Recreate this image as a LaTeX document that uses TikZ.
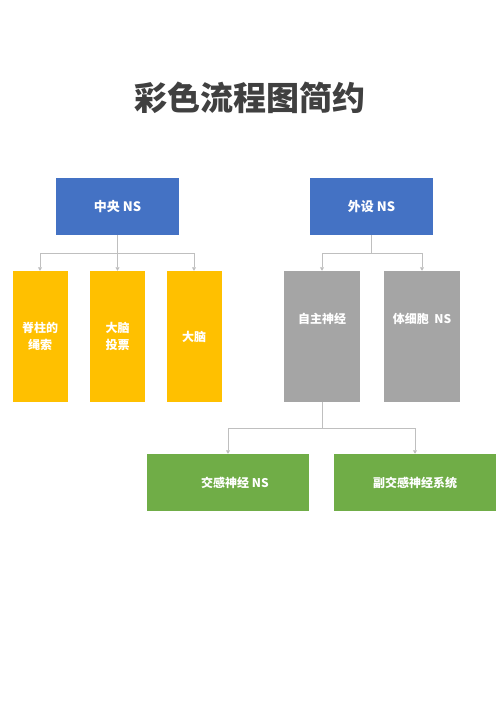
\documentclass[tikz,border=0pt]{standalone}
\usepackage{fontspec}
\setmainfont{Noto Sans CJK SC}
\usepackage{tikz}
\usetikzlibrary{arrows.meta, positioning}
\definecolor{headblue}{HTML}{4472C4}
\definecolor{cordyellow}{HTML}{FFC000}
\definecolor{nervegray}{HTML}{A5A5A5}
\definecolor{leafgreen}{HTML}{70AD47}
\definecolor{linkgray}{HTML}{BFBFBF}
\definecolor{titlegray}{HTML}{404040}

\begin{document}
\begin{tikzpicture}[x=1pt,y=1pt,on grid,
        box/.style={rectangle, text=white, align=center, inner sep=0pt,
            font=\bfseries\fontsize{12pt}{17pt}\selectfont},
        headbox/.style={box, fill=headblue, minimum width=123pt, minimum height=57pt,
            font=\bfseries\fontsize{13pt}{17pt}\selectfont},
        yellowbox/.style={box, fill=cordyellow, minimum width=55pt, minimum height=131pt},
        graybox/.style={box, fill=nervegray, minimum width=76pt, minimum height=131pt},
        greenbox/.style={box, fill=leafgreen, minimum width=162pt, minimum height=57pt},
        toplabel/.style={label={[text=white, font=\bfseries\fontsize{12pt}{17pt}\selectfont, yshift=-57pt]north:#1}},
        link/.style={draw=linkgray, line width=0.8pt, -{Triangle[width=4pt,length=3.5pt]}}]
        \useasboundingbox (0,0) rectangle (500,707);

        \node[font=\bfseries\fontsize{33pt}{40pt}\selectfont, text=titlegray] (title) at (250,609) {彩色流程图简约};

        \node[headbox]      (cns)   at (117.5,500.5)                  {中央 NS};
        \node[yellowbox]    (cord)  [below=130pt of cns]              {大脑\\投票};
        \node[yellowbox]    (spine) [left=77.5pt of cord]             {脊柱的\\绳索};
        \node[yellowbox]    (brain) [right=76.5pt of cord]            {大脑};

        \node[headbox]      (pns)   at (371.5,500.5)                  {外设 NS};
        \node[graybox, toplabel={自主神经}]     (auto)  [below left=130pt and 49.5pt of pns]  {};
        \node[graybox, toplabel={体细胞\ \ NS}] (soma)  [right=100pt of auto]                 {};

        \node[greenbox]     (symp)  [below left=146pt and 94pt of auto] {\hspace*{14pt}交感神经 NS};
        \node[greenbox]     (para)  [right=187pt of symp]               {副交感神经系统};

        % tree connectors
        \path[link] (cns.south) -- ++(0,-18) -| (spine.north);
        \path[link] (cns.south) -- (cord.north);
        \path[link] (cns.south) -- ++(0,-18) -| (brain.north);
        \path[link] (pns.south) -- ++(0,-18) -| (auto.north);
        \path[link] (pns.south) -- ++(0,-18) -| (soma.north);
        \path[link] (auto.south) -- ++(0,-26) -| (symp.north);
        \path[link] (auto.south) -- ++(0,-26) -| (para.north);
    \end{tikzpicture}
\end{document}
